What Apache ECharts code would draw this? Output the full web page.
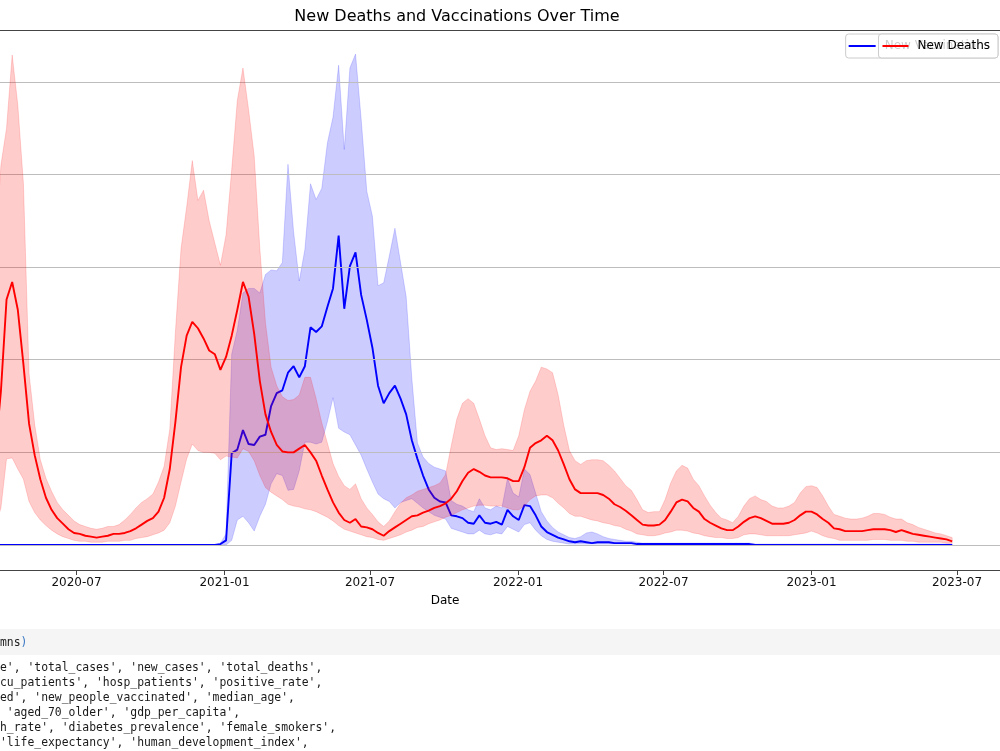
<!DOCTYPE html>
<html>
<head>
<meta charset="UTF-8">
<title>New Deaths and Vaccinations Over Time</title>
<script src="https://cdn.jsdelivr.net/npm/echarts@6/dist/echarts.min.js"></script>
<style>
  html, body { margin: 0; padding: 0; background: #fff; }
  #chart { width: 1000px; height: 751px; }
</style>
</head>
<body>
<div id="chart"></div>
<script>
// weekly points, first week starts 2020-03-15
var firstWeek = [2020, 2, 15];

// new deaths: mean line and the band around it
var deathsMean = [
  60,100,166,265,284,254,195,131,97,71,
  51,38,29,23,17,13,12,10,9,8,
  9,10,12,12,13,15,18,22,26,29,
  36,51,82,133,192,226,241,234,223,210,
  206,189,203,226,254,284,268,228,177,141,
  122,108,101,100,100,104,108,100,91,75,
  60,46,35,27,24,28,20,19,17,13,
  10,15,19,23,27,31,32,35,37,40,
  42,45,50,58,69,78,82,79,75,73,
  73,73,72,69,69,84,105,110,113,118,
  113,102,87,71,60,56,56,56,56,54,
  50,44,41,37,32,27,22,21,21,22,
  27,36,46,49,47,40,36,28,24,21,
  18,16,16,20,25,29,31,29,26,23,
  23,23,24,27,32,36,36,33,28,24,
  18,17,15,15,15,15,16,17,17,17,
  16,14,16,14,12,11,10,9,8,7,
  6,4
];
var deathsHi = [
  200,320,410,450,529,475,390,185,130,92,
  72,58,46,38,32,26,22,20,18,17,
  18,20,20,22,27,33,40,46,50,55,
  68,85,125,230,320,365,415,372,383,350,
  326,302,335,405,480,515,470,420,320,240,
  192,172,160,156,157,162,181,181,158,132,
  110,88,74,64,60,66,50,40,33,25,
  20,26,36,45,51,54,58,60,62,64,
  67,76,107,136,153,158,153,136,118,105,
  103,104,103,102,118,146,166,177,192,190,
  186,162,129,102,91,87,91,92,92,91,
  86,80,72,64,59,49,38,35,36,36,
  49,67,80,86,83,71,64,53,43,35,
  29,27,24,31,42,50,53,49,47,42,
  40,40,42,46,56,63,64,62,53,42,
  33,31,29,28,28,29,31,34,34,33,
  30,28,28,24,22,19,17,15,13,12,
  10,8
];
var deathsLo = [
  10,20,40,93,94,82,71,47,35,27,
  21,16,12,9,7,5,4,4,3,3,
  3,4,4,4,5,5,7,8,9,11,
  13,16,24,42,68,93,109,102,100,100,
  99,92,96,95,94,104,101,91,75,62,
  57,53,49,44,42,41,39,38,36,33,
  30,26,21,17,15,13,11,9,8,6,
  5,7,9,11,14,16,19,20,23,25,
  27,30,32,35,38,40,42,43,43,42,
  42,42,40,38,38,42,49,53,54,54,
  51,45,40,34,31,31,29,27,26,24,
  23,21,20,17,15,12,11,10,10,11,
  13,14,16,16,15,13,12,10,9,8,
  8,7,7,8,11,12,12,11,10,10,
  10,10,10,11,12,13,15,13,10,8,
  7,5,5,5,5,5,5,6,6,6,
  5,5,5,4,4,3,3,3,3,3,
  2,2
];

// new vaccinations: mean line and the band around it
var vaxMean = [
  0,0,0,0,0,0,0,0,0,0,
  0,0,0,0,0,0,0,0,0,0,
  0,0,0,0,0,0,0,0,0,0,
  0,0,0,0,0,0,0,0,0,0,
  0,1,5,99,103,124,109,108,117,119,
  150,164,167,186,193,181,193,235,230,236,
  257,277,334,255,301,316,270,243,213,172,
  153,164,172,158,141,113,93,75,60,51,
  47,46,32,31,29,24,23,32,24,23,
  25,22,38,31,27,43,42,32,20,14,
  11,8,6,4,3,4,3,2,3,3,
  3,2,2,2,2,1,1,1,1,1,
  1,1,1,1,1,1,1,1,1,1,
  1,1,1,1,1,1,0,0,0,0,
  0,0,0,0,0,0,0,0,0,0,
  0,0,0,0,0,0,0,0,0,0,
  0,0,0,0,0,0,0,0,0,0,
  0,0
];
var vaxHi = [
  0,0,0,0,0,0,0,0,0,0,
  0,0,0,0,0,0,0,0,0,0,
  0,0,0,0,0,0,0,0,0,0,
  0,0,0,0,0,0,0,0,0,0,
  0,2,12,206,232,272,277,277,272,292,
  297,296,305,411,338,285,319,390,373,385,
  434,462,518,427,515,530,460,382,355,280,
  283,312,342,305,268,180,110,95,88,84,
  82,80,48,44,42,38,36,50,40,38,
  42,40,72,56,52,82,76,56,36,26,
  19,14,11,8,7,9,13,14,12,9,
  7,6,5,4,4,3,2,2,2,2,
  2,2,2,2,2,2,2,2,2,2,
  2,2,2,2,2,2,1,1,1,1,
  1,1,1,1,1,1,1,1,1,1,
  1,1,1,1,1,1,1,1,1,1,
  1,1,1,1,1,1,1,1,1,1,
  1,1
];
var vaxLo = [
  0,0,0,0,0,0,0,0,0,0,
  0,0,0,0,0,0,0,0,0,0,
  0,0,0,0,0,0,0,0,0,0,
  0,0,0,0,0,0,0,0,0,0,
  0,0,0,5,27,31,24,15,31,44,
  66,77,75,59,60,80,111,111,109,111,
  133,159,126,122,119,108,97,82,68,55,
  50,47,40,46,48,50,45,40,36,32,
  30,28,18,16,14,12,12,16,12,11,
  13,12,20,17,14,22,24,16,10,6,
  4,3,2,1,1,1,1,1,1,1,
  1,1,1,1,1,1,0,0,0,0,
  0,0,0,0,0,0,0,0,0,0,
  0,0,0,0,0,0,0,0,0,0,
  0,0,0,0,0,0,0,0,0,0,
  0,0,0,0,0,0,0,0,0,0,
  0,0,0,0,0,0,0,0,0,0,
  0,0
];

var tickLabels = ['2020-07', '2021-01', '2021-07', '2022-01', '2022-07', '2023-01', '2023-07'];

// notebook output printed under the figure
var inputTail = 'mns';
var outputLines = [
  "e', 'total_cases', 'new_cases', 'total_deaths',",
  "cu_patients', 'hosp_patients', 'positive_rate',",
  "ed', 'new_people_vaccinated', 'median_age',",
  " 'aged_70_older', 'gdp_per_capita',",
  "h_rate', 'diabetes_prevalence', 'female_smokers',",
  "'life_expectancy', 'human_development_index',"
];

var chart = echarts.init(document.getElementById('chart'));

var dates = deathsMean.map(function (v, i) {
  return new Date(firstWeek[0], firstWeek[1], firstWeek[2] + 7 * i).getTime();
});
function pairs(arr) {
  return arr.map(function (v, i) { return [dates[i], v]; });
}
var tickValues = tickLabels.map(function (s) {
  var p = s.split('-');
  return new Date(+p[0], +p[1] - 1, 1).getTime();
});
function pad2(n) { return n < 10 ? '0' + n : '' + n; }

// the shaded band is one polygon: upper edge forward, lower edge back
function band(name, hi, lo, color, z) {
  return {
    name: name, type: 'custom', silent: true, clip: true, z: z,
    data: pairs(hi), encode: { x: 0, y: 1 },
    renderItem: function (params, api) {
      if (params.dataIndex !== 0) return null;
      var pts = [];
      for (var i = 0; i < hi.length; i++) pts.push(api.coord([dates[i], hi[i]]));
      for (var j = lo.length - 1; j >= 0; j--) pts.push(api.coord([dates[j], lo[j]]));
      return {
        type: 'polygon', shape: { points: pts },
        style: { fill: color, stroke: color, lineWidth: 0.8 }
      };
    }
  };
}

var mono = '"DejaVu Sans Mono", monospace';
var sans = '"DejaVu Sans", sans-serif';

var graphics = [
  {
    type: 'text', x: 457, y: 17,
    style: { text: 'New Deaths and Vaccinations Over Time', font: '16px ' + sans, fill: '#000', align: 'center', verticalAlign: 'middle' }
  },
  {
    type: 'text', x: 445, y: 601,
    style: { text: 'Date', font: '12px ' + sans, fill: '#000', align: 'center', verticalAlign: 'middle' }
  },
  { type: 'rect', shape: { x: 0, y: 629, width: 1000, height: 26 }, style: { fill: '#f5f5f5' } },
  { type: 'text', x: 0, y: 643, style: { text: inputTail, font: '11.4px ' + mono, fill: '#222', verticalAlign: 'middle' } },
  { type: 'text', x: 20.5, y: 643, style: { text: ')', font: '11.4px ' + mono, fill: '#3b78c4', verticalAlign: 'middle' } }
];
outputLines.forEach(function (line, i) {
  graphics.push({
    type: 'text', x: 0, y: 668 + 15 * i,
    style: { text: line, font: '11.4px ' + mono, fill: '#1a1a1a', verticalAlign: 'middle' }
  });
});

var xMin = new Date(2020, 2, 27, 20, 40).getTime();
var xMax = new Date(2023, 7, 23, 11, 30).getTime();

var option = {
  animation: false,
  backgroundColor: '#fff',
  graphic: graphics,
  grid: { left: 0, right: 0, top: 30, bottom: 181, show: false },
  legend: [
    {
      data: ['New Vaccinations'], right: 2, top: 34, z: 4,
      icon: 'rect', itemWidth: 27, itemHeight: 2, selectedMode: false,
      padding: [5, 8, 5, 3],
      backgroundColor: 'rgba(255,255,255,0.8)', borderColor: '#cccccc', borderWidth: 1, borderRadius: 3,
      textStyle: { fontSize: 12, lineHeight: 14, fontFamily: sans, color: '#000', padding: [0, 0, 0, 4] }
    },
    {
      data: ['New Deaths'], right: 2, top: 34, z: 5,
      icon: 'rect', itemWidth: 26, itemHeight: 2, selectedMode: false,
      padding: [5, 8, 5, 4],
      backgroundColor: 'rgba(255,255,255,0.8)', borderColor: '#cccccc', borderWidth: 1, borderRadius: 3,
      textStyle: { fontSize: 12, lineHeight: 14, fontFamily: sans, color: '#000', padding: [0, 0, 0, 4] }
    }
  ],
  xAxis: [
    {
      type: 'value', min: xMin, max: xMax, position: 'bottom', z: 3,
      axisLine: { show: true, onZero: false, lineStyle: { color: '#444', width: 1 } },
      axisTick: { show: true, customValues: tickValues, length: 5, lineStyle: { color: '#444' } },
      axisLabel: {
        customValues: tickValues, margin: 7, fontSize: 12, fontFamily: sans, color: '#111',
        formatter: function (v) {
          var d = new Date(v);
          return d.getFullYear() + '-' + pad2(d.getMonth() + 1);
        }
      },
      splitLine: { show: false }
    },
    {
      // top spine only
      type: 'value', min: xMin, max: xMax, position: 'top', z: 3,
      axisLine: { show: true, onZero: false, lineStyle: { color: '#444', width: 1 } },
      axisTick: { show: false }, axisLabel: { show: false }, splitLine: { show: false }
    }
  ],
  yAxis: {
    // grid lines sit above the vaccination layer and below the deaths layer
    type: 'value', min: -27, max: 556, minInterval: 100, maxInterval: 100, z: 1.5,
    axisLine: { show: false }, axisTick: { show: false }, axisLabel: { show: false },
    splitLine: { show: true, showMinLine: false, showMaxLine: false, lineStyle: { color: '#bdbdbd', width: 1 } }
  },
  series: [
    band('vaxBand', vaxHi, vaxLo, 'rgba(0,0,255,0.2)', 1),
    {
      name: 'New Vaccinations', type: 'line', data: pairs(vaxMean), symbol: 'none', z: 1,
      color: '#0000ff', lineStyle: { color: '#0000ff', width: 1.9 }
    },
    band('deathsBand', deathsHi, deathsLo, 'rgba(255,0,0,0.2)', 2),
    {
      name: 'New Deaths', type: 'line', data: pairs(deathsMean), symbol: 'none', z: 2,
      color: '#ff0000', lineStyle: { color: '#ff0000', width: 1.9 }
    }
  ]
};
chart.setOption(option);
</script>
</body>
</html>
